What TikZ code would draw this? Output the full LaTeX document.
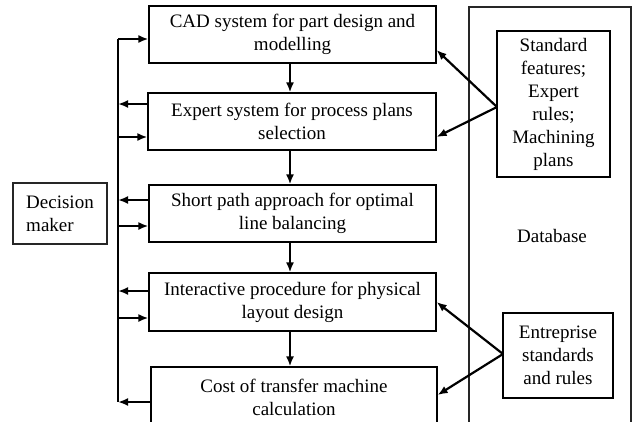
\documentclass[tikz,border=0pt]{standalone}
\usepackage{fontspec}
\setmainfont{Liberation Serif}
\usetikzlibrary{arrows.meta}
\begin{document}
\begin{tikzpicture}[x=1pt,y=-1pt,
  every node/.style={font=\fontsize{19}{23}\selectfont, inner sep=0pt},
  procbox/.style={draw, line width=1.2pt, align=center, minimum width=287pt, minimum height=57pt},
  infobox/.style={draw, line width=1.2pt, align=center},
  heavybox/.style={draw=black!85, line width=2.4pt},
  arr/.style={line width=2.2pt, -{Latex[length=10pt,width=8pt]}},
  bus/.style={line width=1.7pt}]
\useasboundingbox (0,0) rectangle (632,421);
% database frame
\draw[heavybox] (631,440) -- (631,7) -- (469,7) -- (469,440);
\node (db) at (552,236) {Database};
% decision maker
\node[heavybox, minimum width=94pt, minimum height=61pt, align=left] (dm) at (60,213.5) {Decision\\maker};
% process boxes
\node[procbox] (cad) at (292.5,34.5) {CAD system for part design and\\modelling};
\node[procbox, minimum width=288pt] (exp) at (292,121.5) {Expert system for process plans\\selection};
\node[procbox] (sp) at (292.5,213.5) {Short path approach for optimal\\line balancing};
\node[procbox, minimum height=58pt] (ip) at (292.5,302) {Interactive procedure for physical\\layout design};
\node[procbox, minimum width=286pt, minimum height=60pt] (cost) at (294,397) {Cost of transfer machine\\calculation};
% info boxes
\node[infobox, minimum width=113pt, minimum height=146pt] (std) at (553.5,104) {Standard\\features;\\Expert\\rules;\\Machining\\plans};
\node[infobox, minimum width=110pt, minimum height=85pt] (ent) at (558,355.5) {Entreprise\\standards\\and rules};
% bus
\coordinate (bt) at (118,39);
\coordinate (bb) at (118,402);
\draw[bus] (bt) -- (bb);
\draw[arr] (bt) -- (bt -| cad.west);
\coordinate (e1) at (118,104); \coordinate (e2) at (118,137);
\draw[arr] (e1 -| exp.west) -- (e1);
\draw[arr] (e2) -- (e2 -| exp.west);
\coordinate (s1) at (118,200); \coordinate (s2) at (118,226);
\draw[arr] (s1 -| sp.west) -- (s1);
\draw[arr] (s2) -- (s2 -| sp.west);
\coordinate (i1) at (118,291); \coordinate (i2) at (118,318);
\draw[arr] (i1 -| ip.west) -- (i1);
\draw[arr] (i2) -- (i2 -| ip.west);
\draw[arr] (bb -| cost.west) -- (bb);
% vertical flow
\coordinate (vx) at (290,0);
\draw[arr] (vx |- cad.south) -- (vx |- exp.north);
\draw[arr] (vx |- exp.south) -- (vx |- sp.north);
\draw[arr] (vx |- sp.south) -- (vx |- ip.north);
\draw[arr] (vx |- ip.south) -- (vx |- cost.north);
% database arrows
\coordinate (stdp) at (497,107);
\draw[arr] (stdp) -- ([yshift=-15.5pt]cad.east);
\draw[arr] (stdp) -- ([yshift=-15.5pt]exp.east);
\coordinate (entp) at (503,354);
\draw[arr] (entp) -- (ip.east);
\draw[arr] (entp) -- ([yshift=2pt]cost.east);
\end{tikzpicture}
\end{document}
